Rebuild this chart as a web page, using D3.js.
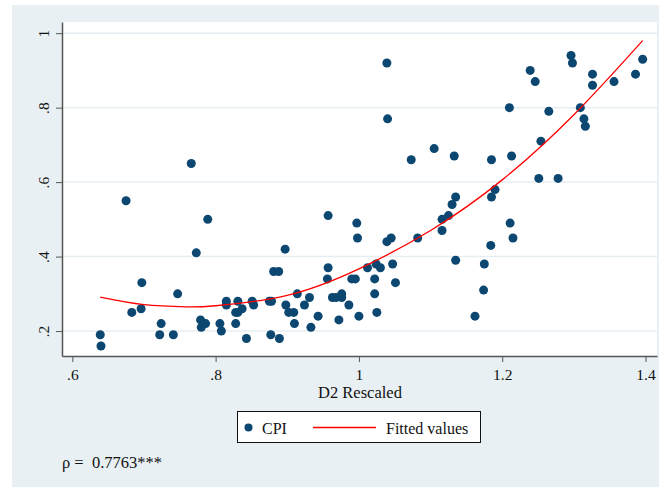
<!DOCTYPE html>
<html>
<head>
<meta charset="utf-8">
<script src="https://cdn.jsdelivr.net/npm/d3@7"></script>
<style>
  html, body { margin: 0; padding: 0; background: #fff; }
  svg { display: block; font-family: "Liberation Serif", "Times New Roman", serif; }
</style>
</head>
<body>
<div id="chart"></div>
<script>
// CPI vs D2 Rescaled
const d2 = [
  0.639, 0.640, 0.675, 0.683, 0.696, 0.697, 0.722, 0.724, 0.741, 0.747,
  0.766, 0.773, 0.779, 0.780, 0.786, 0.789, 0.806, 0.808, 0.815, 0.815,
  0.828, 0.828, 0.831, 0.831, 0.837, 0.843, 0.851, 0.853, 0.875, 0.878,
  0.877, 0.881, 0.888, 0.889, 0.897, 0.898, 0.902, 0.909, 0.910, 0.914,
  0.924, 0.931, 0.933, 0.943, 0.956, 0.957, 0.957, 0.963, 0.968, 0.972,
  0.976, 0.976, 0.986, 0.990, 0.995, 0.997, 0.998, 1.000, 1.012, 1.022,
  1.022, 1.024, 1.025, 1.030, 1.039, 1.045, 1.039, 1.040, 1.047, 1.051,
  1.073, 1.082, 1.105, 1.116, 1.116, 1.125, 1.130, 1.133, 1.135, 1.135,
  1.162, 1.174, 1.175, 1.184, 1.185, 1.185, 1.190, 1.210, 1.211, 1.213,
  1.215, 1.239, 1.246, 1.251, 1.254, 1.265, 1.278, 1.296, 1.298, 1.309,
  1.314, 1.316, 1.326, 1.326, 1.356, 1.386, 1.396
];
const cpi = [
  0.19, 0.16, 0.55, 0.25, 0.26, 0.33, 0.19, 0.22, 0.19, 0.30,
  0.65, 0.41, 0.23, 0.21, 0.22, 0.50, 0.22, 0.20, 0.28, 0.27,
  0.25, 0.22, 0.28, 0.25, 0.26, 0.18, 0.28, 0.27, 0.28, 0.28,
  0.19, 0.36, 0.36, 0.18, 0.42, 0.27, 0.25, 0.25, 0.22, 0.30,
  0.27, 0.29, 0.21, 0.24, 0.34, 0.37, 0.51, 0.29, 0.29, 0.23,
  0.30, 0.29, 0.27, 0.34, 0.34, 0.49, 0.45, 0.24, 0.37, 0.34,
  0.30, 0.38, 0.25, 0.37, 0.44, 0.45, 0.92, 0.77, 0.38, 0.33,
  0.66, 0.45, 0.69, 0.50, 0.47, 0.51, 0.54, 0.67, 0.56, 0.39,
  0.24, 0.31, 0.38, 0.43, 0.66, 0.56, 0.58, 0.80, 0.49, 0.67,
  0.45, 0.90, 0.87, 0.61, 0.71, 0.79, 0.61, 0.94, 0.92, 0.80,
  0.77, 0.75, 0.89, 0.86, 0.87, 0.89, 0.93
];

// fitted values (quadratic fit line, read at a few x positions)
const fitX = [0.639, 0.70, 0.76, 0.80, 0.90, 1.00, 1.10, 1.20, 1.30, 1.396];
const fitY = [0.291, 0.271, 0.265, 0.268, 0.296, 0.367, 0.470, 0.606, 0.781, 0.980];

const xTicks = [0.6, 0.8, 1.0, 1.2, 1.4];
const xTickLabels = [".6", ".8", "1", "1.2", "1.4"];
const yTicks = [0.2, 0.4, 0.6, 0.8, 1.0];
const yTickLabels = [".2", ".4", ".6", ".8", "1"];

const W = 659, H = 487;
const plot = { left: 62, right: 657, top: 22, bottom: 356 };

const svg = d3.select("#chart")
  .append("svg")
  .attr("width", W)
  .attr("height", H);

// graph region background
svg.append("rect")
  .attr("x", 12).attr("y", 5)
  .attr("width", W - 12).attr("height", H - 5)
  .attr("fill", "#e8f0f3");

// plot region
svg.append("rect")
  .attr("x", plot.left).attr("y", plot.top)
  .attr("width", plot.right - plot.left).attr("height", plot.bottom - plot.top)
  .attr("fill", "#ffffff");

const x = d3.scaleLinear()
  .domain([0.5856, 1.416])
  .range([plot.left, plot.right]);

const y = d3.scaleLinear()
  .domain([0.133, 1.030])
  .range([plot.bottom, plot.top]);

// horizontal grid lines
svg.append("g")
  .selectAll("line")
  .data(yTicks)
  .enter()
  .append("line")
  .attr("x1", plot.left)
  .attr("x2", plot.right)
  .attr("y1", (d) => y(d))
  .attr("y2", (d) => y(d))
  .attr("stroke", "#e6eef2")
  .attr("stroke-width", 1.5);

// x axis
const xAxis = svg.append("g")
  .attr("transform", `translate(0, ${plot.bottom})`)
  .call(d3.axisBottom(x)
    .tickValues(xTicks)
    .tickFormat((d, i) => xTickLabels[i])
    .tickSize(6)
    .tickSizeOuter(0));
xAxis.select(".domain").attr("stroke", "#555").attr("stroke-width", 1.5);
xAxis.selectAll(".tick line").attr("stroke", "#555");
xAxis.selectAll(".tick text")
  .attr("y", 13)
  .attr("fill", "#111")
  .style("font-family", "Liberation Serif, serif")
  .style("font-size", "15.5px");

// y axis
const yAxis = svg.append("g")
  .attr("transform", `translate(${plot.left}, 0)`)
  .call(d3.axisLeft(y)
    .tickValues(yTicks)
    .tickFormat((d, i) => yTickLabels[i])
    .tickSize(6)
    .tickSizeOuter(0));
yAxis.select(".domain").attr("stroke", "#555").attr("stroke-width", 1.5);
yAxis.selectAll(".tick line").attr("stroke", "#555");
yAxis.selectAll(".tick text")
  .attr("x", null)
  .attr("dy", null)
  .attr("text-anchor", "middle")
  .attr("transform", "translate(-13,0) rotate(-90)")
  .attr("fill", "#111")
  .style("font-family", "Liberation Serif, serif")
  .style("font-size", "15.5px");

// axis title
svg.append("text")
  .attr("x", (plot.left + plot.right) / 2 + 0.5)
  .attr("y", 398)
  .attr("text-anchor", "middle")
  .attr("fill", "#111")
  .style("font-size", "16.5px")
  .text("D2 Rescaled");

// scatter points
const pts = d2.map((v, i) => ({ x: v, y: cpi[i] }));
svg.append("g")
  .selectAll("circle")
  .data(pts)
  .enter()
  .append("circle")
  .attr("cx", (d) => x(d.x))
  .attr("cy", (d) => y(d.y))
  .attr("r", 4.5)
  .attr("fill", "#0c4771");

// fitted line
const fit = fitX.map((v, i) => ({ x: v, y: fitY[i] }));
const line = d3.line()
  .x((d) => x(d.x))
  .y((d) => y(d.y))
  .curve(d3.curveNatural);
svg.append("path")
  .datum(fit)
  .attr("fill", "none")
  .attr("stroke", "#ff0000")
  .attr("stroke-width", 1.3)
  .attr("d", line);

// legend
const leg = svg.append("g");
leg.append("rect")
  .attr("x", 237.5).attr("y", 411.5)
  .attr("width", 243).attr("height", 31)
  .attr("fill", "#fff")
  .attr("stroke", "#111")
  .attr("stroke-width", 1);
leg.append("circle")
  .attr("cx", 248.5).attr("cy", 427.5)
  .attr("r", 4)
  .attr("fill", "#0c4771");
leg.append("text")
  .attr("x", 262).attr("y", 433.5)
  .attr("fill", "#111")
  .style("font-size", "16px")
  .text("CPI");
leg.append("line")
  .attr("x1", 313).attr("x2", 376)
  .attr("y1", 427.5).attr("y2", 427.5)
  .attr("stroke", "#ff0000")
  .attr("stroke-width", 1.3);
leg.append("text")
  .attr("x", 386).attr("y", 433.5)
  .attr("fill", "#111")
  .style("font-size", "16px")
  .text("Fitted values");

// correlation note
svg.append("text")
  .attr("x", 62).attr("y", 468)
  .attr("fill", "#111")
  .style("font-size", "16.5px")
  .style("white-space", "pre")
  .text("ρ =  0.7763***");
</script>
</body>
</html>
